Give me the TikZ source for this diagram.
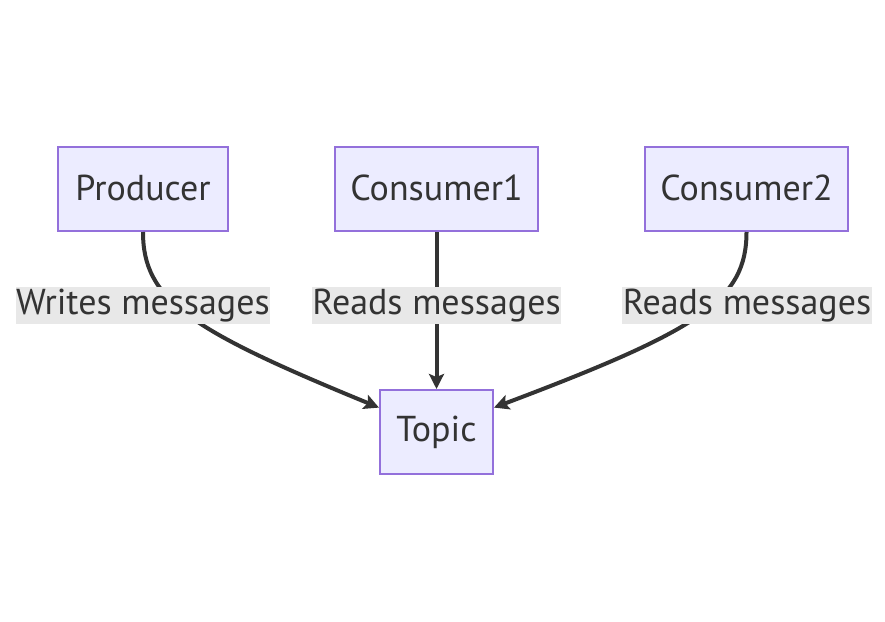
\documentclass[tikz,border=0pt]{standalone}
\usepackage{fontspec}
\setmainfont{PT Sans}
\usetikzlibrary{arrows.meta}
\definecolor{boxfill}{HTML}{ECECFF}
\definecolor{boxline}{HTML}{9370DB}
\definecolor{ink}{HTML}{333333}
\definecolor{labelbg}{HTML}{E8E8E8}
\tikzset{
  box/.style={draw=boxline, fill=boxfill, line width=2pt, minimum height=84pt, inner sep=0pt, text=ink, font=\fontsize{36}{42}\selectfont},
  msg/.style={fill=labelbg, text=ink, inner sep=0.5pt, text height=27pt, text depth=9pt, font=\fontsize{36}{42}\selectfont},
  link/.style={draw=ink, line width=4pt, -{Stealth[length=15pt,width=15pt,inset=3pt]}}
}
\begin{document}
\begin{tikzpicture}[x=1pt,y=-1pt]
\useasboundingbox (0,0) rectangle (885,621);
\node[box, minimum width=170pt] (producer) at (143,189) {\raisebox{3pt}{Producer}};
\node[box, minimum width=203pt] (consumer1) at (436.5,189) {\raisebox{3pt}{Consumer1}};
\node[box, minimum width=203pt] (consumer2) at (746.5,189) {\raisebox{3pt}{Consumer2}};
\node[box, minimum width=113pt] (topic) at (436.5,432) {\raisebox{3pt}{Topic}};
\draw[link] (producer.south) .. controls (143,300) and (190,330) .. (topic.157);
\draw[link] (consumer1.south) -- (topic.north);
\draw[link] (consumer2.south) .. controls (746.5,300) and (700,330) .. (topic.23);
\node[msg] (writes) at (143,305) {Writes messages};
\node[msg] (reads1) at (436.5,305) {Reads messages};
\node[msg] (reads2) at (747,305) {Reads messages};
\end{tikzpicture}
\end{document}
